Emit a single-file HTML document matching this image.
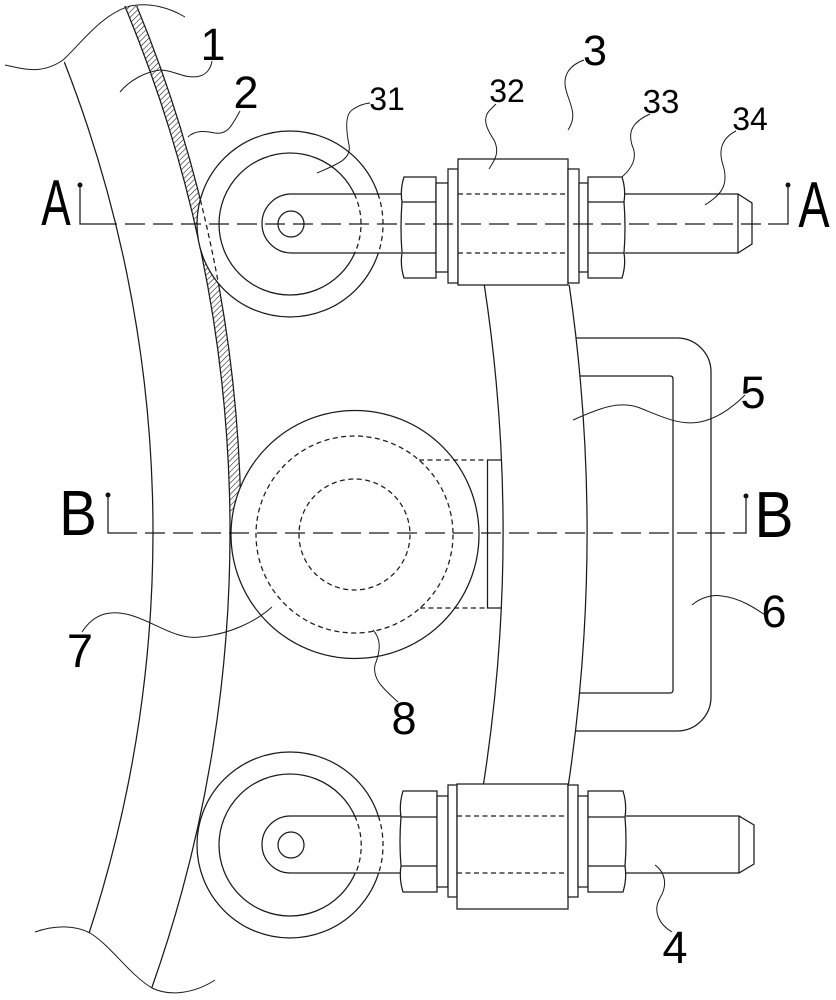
<!DOCTYPE html>
<html><head><meta charset="utf-8"><style>
html,body{margin:0;padding:0;background:#fff;}
svg{display:block;}
text{font-family:"Liberation Sans",Arial,sans-serif;fill:#000;}
</style></head><body>
<svg width="836" height="1000" viewBox="0 0 836 1000" xmlns="http://www.w3.org/2000/svg">
<defs>
<pattern id="hatch" patternUnits="userSpaceOnUse" width="4" height="4" patternTransform="rotate(45)">
<line x1="0" y1="0" x2="0" y2="4" stroke="#111" stroke-width="1.1"/>
</pattern>
</defs>
<rect width="836" height="1000" fill="#fff"/>
<g fill="none" stroke="#1a1a1a" stroke-width="1.25">
<!-- break curves -->
<path d="M5,65 C20,68 40,76 63,60 C80,45 100,15 130,6 C150,2 170,8 185,17" stroke-width="1"/>
<path d="M35,932 C55,925 75,925 90,933 C110,945 130,975 152,988 C170,997 195,993 215,980" stroke-width="1"/>
<!-- part 1 arcs -->
<path d="M64.3,62 A1290,1290 0 0 1 89.1,933"/>
<path d="M124.8,6 A1367,1367 0 0 1 151.7,988"/>
<!-- hatched strip 2 -->
<path d="M124.8,6 A1367,1367 0 0 1 229.9,515 L240.9,515 A1378,1378 0 0 0 136.7,6 Z" fill="url(#hatch)" stroke="none"/>
<path d="M136.7,6 A1378,1378 0 0 1 240.9,515"/>

<!-- top roller 31 -->
<circle cx="290" cy="224" r="93" fill="#fff"/>
<circle cx="290" cy="224" r="71"/>
<path d="M200.4,200 A1378,1378 0 0 1 218.5,284" stroke-dasharray="5,3.5"/>
<path d="M401,194 L291.5,194 A29.5,29.5 0 0 0 291.5,253 L401,253" fill="#fff"/>
<path d="M354.4,194 A71,71 0 0 1 354.8,253" stroke-dasharray="5,3.5"/>
<path d="M378,194 A93,93 0 0 1 378.4,253" stroke-dasharray="5,3.5"/>
<circle cx="291" cy="224" r="13"/>

<!-- bottom roller -->
<circle cx="290" cy="845" r="93" fill="#fff"/>
<circle cx="290" cy="845" r="71"/>
<path d="M401,816 L290.5,816 A28.5,28.5 0 0 0 290.5,873 L401,873" fill="#fff"/>
<path d="M354.8,816 A71,71 0 0 1 355.7,873" stroke-dasharray="5,3.5"/>
<path d="M378.4,816 A93,93 0 0 1 378.7,873" stroke-dasharray="5,3.5"/>
<circle cx="291" cy="845" r="13"/>

<!-- roller 7 / part 8 -->
<circle cx="355" cy="534.5" r="124" fill="#fff"/>
<circle cx="354.5" cy="534.5" r="98.5" stroke-dasharray="5,3.5"/>
<circle cx="354.5" cy="534.5" r="55.5" stroke-dasharray="5,3.5"/>
<path d="M419,460 L487.5,460 M420,608 L487.5,608" stroke-dasharray="5,3.5"/>
<path d="M501.4,460 L487.5,460 L487.5,608 L501.2,608"/>

<!-- part 5 -->
<path d="M484.3,285 A1640,1640 0 0 1 483.5,784"/>
<path d="M569.2,285 A1724,1724 0 0 1 568.5,784"/>

<!-- handle 6 -->
<path d="M576,338 L677,338 A34,34 0 0 1 711,372 L711,697 A34,34 0 0 1 677,731 L575.5,731"/>
<path d="M580,376 L670,376 Q673,376 673,379 L673,690 Q673,693 670,693 L579.4,693"/>

<!-- top assembly -->
<path d="M404,177 L436,177 L436,278 L404,278 Q400,265.5 402,253 Q400,227.5 402,202 Q400,189.5 404,177 Z" fill="#fff"/>
<path d="M402,202 L436,202 M402,253 L436,253"/>
<rect x="436" y="183" width="12" height="89" fill="#fff"/>
<rect x="448" y="169" width="10" height="114" fill="#fff"/>
<rect x="458" y="159" width="110" height="126" fill="#fff"/>
<path d="M458,194 L568,194 M458,253 L568,253" stroke-dasharray="5,3.5"/>
<rect x="568" y="169" width="11" height="114" fill="#fff"/>
<rect x="579" y="183" width="9" height="89" fill="#fff"/>
<path d="M588,177 L622,177 Q626,189.5 624,202 Q626,227.5 624,253 Q626,265.5 622,278 L588,278 Z" fill="#fff"/>
<path d="M588,202 L624,202 M588,253 L624,253"/>
<path d="M625,194 L738,194 L752,203 L752,244 L738,253 L625,253 M738,194 L738,253"/>

<!-- bottom assembly -->
<path d="M403,791 L437,791 L437,892 L403,892 Q399,879 401,866 Q399,841.5 401,817 Q399,804 403,791 Z" fill="#fff"/>
<path d="M401,817 L437,817 M401,866 L437,866"/>
<rect x="437" y="796" width="11" height="91" fill="#fff"/>
<rect x="448" y="785" width="9" height="112" fill="#fff"/>
<rect x="457" y="784" width="111" height="125" fill="#fff"/>
<path d="M457,816 L568,816 M457,873 L568,873" stroke-dasharray="5,3.5"/>
<rect x="568" y="785" width="10" height="112" fill="#fff"/>
<rect x="578" y="796" width="10" height="91" fill="#fff"/>
<path d="M588,791 L623,791 Q627,804 625,817 Q627,841.5 625,866 Q627,879 623,892 L588,892 Z" fill="#fff"/>
<path d="M588,817 L625,817 M588,866 L625,866"/>
<path d="M626,816 L739,816 L754,825 L754,864 L739,873 L626,873 M739,816 L739,873"/>

<!-- section lines -->
<path d="M97,224 L768,224" stroke-dasharray="20,8"/>
<path d="M80,185 L80,224 L97,224 M788,185 L788,224 L768,224"/>
<path d="M117,533 L736,533" stroke-dasharray="20,8"/>
<path d="M108,495 L108,533 L117,533 M746,496 L746,533 L736,533"/>

<!-- leaders -->
<g stroke-width="1">
<path d="M120,92 C130,80 145,72 160,70 C175,70 185,80 200,76 C207,74 211,68 212,61"/>
<path d="M188,137 C195,130 205,131 215,133 C228,135 232,125 240,111"/>
<path d="M317,173 C335,165 352,160 349,145 C346,130 345,115 352,110 C358,106 362,104 370,103"/>
<path d="M489,169 C495,160 500,152 494,140 C486,128 482,118 490,110 L496,104"/>
<path d="M568,130 C578,115 570,105 566,90 C562,75 570,65 584,60"/>
<path d="M622,177 C632,168 638,158 632,145 C628,132 632,122 650,114"/>
<path d="M705,205 C718,196 730,188 723,165 C718,150 722,138 736,131"/>
<path d="M573,420 C600,408 620,400 640,408 C660,416 680,426 700,422 C720,418 735,405 745,395"/>
<path d="M692,605 C700,598 712,594 722,596 C740,598 755,608 768,617"/>
<path d="M82,632 C95,612 112,610 130,615 C155,622 175,640 200,637 C230,634 255,622 272,607"/>
<path d="M373,630 C382,640 380,652 375,665 C372,680 385,690 398,702"/>
<path d="M655,865 C665,872 668,885 660,898 C652,912 660,925 672,932"/>
</g>
</g>
<g fill="#111">
<circle cx="80" cy="185" r="2.5"/>
<circle cx="788" cy="185" r="2.5"/>
<circle cx="108" cy="495" r="2.5"/>
<circle cx="746" cy="496" r="2.5"/>
</g>

<!-- labels -->
<g text-anchor="middle">
<text transform="translate(56,225) scale(0.68,1)" font-size="65">A</text>
<text transform="translate(814,227) scale(0.72,1)" font-size="65">A</text>
<text transform="translate(78,535) scale(0.88,1)" font-size="64">B</text>
<text transform="translate(774,537) scale(0.9,1)" font-size="65">B</text>

<text x="213" y="60" font-size="45">1</text>
<text x="246" y="108" font-size="45">2</text>
<text x="595" y="65" font-size="43">3</text>
<text x="753" y="408" font-size="45">5</text>
<text x="774" y="627" font-size="45">6</text>
<text x="80" y="667" font-size="47">7</text>
<text x="404" y="734" font-size="45">8</text>
<text x="675" y="963" font-size="45">4</text>

<text x="387" y="110" font-size="32">31</text>
<text x="507" y="102" font-size="32">32</text>
<text x="661" y="113" font-size="33">33</text>
<text x="750" y="130" font-size="32">34</text>
</g>
</svg>
</body></html>
